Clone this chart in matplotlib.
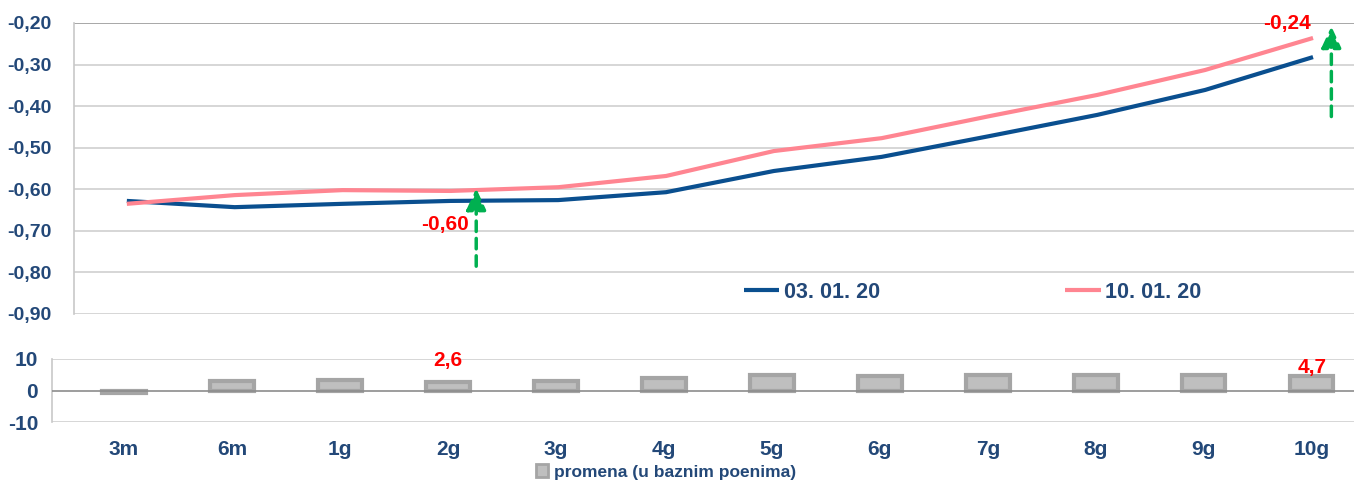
import matplotlib
matplotlib.use("Agg")
import matplotlib.pyplot as plt
from matplotlib.patches import Patch

categories = ["3m", "6m", "1g", "2g", "3g", "4g", "5g", "6g", "7g", "8g", "9g", "10g"]
yield_0301 = [-0.628, -0.643, -0.635, -0.628, -0.626, -0.607, -0.556, -0.522, -0.472, -0.421, -0.361, -0.282]
yield_1001 = [-0.635, -0.614, -0.602, -0.604, -0.595, -0.568, -0.508, -0.477, -0.424, -0.373, -0.313, -0.236]
change_bp = [-0.7, 2.9, 3.3, 2.6, 3.1, 3.9, 4.8, 4.6, 4.8, 4.8, 4.8, 4.7]
top_ticks = [-0.90, -0.80, -0.70, -0.60, -0.50, -0.40, -0.30, -0.20]
bottom_ticks = [-10, 0, 10]
series_names = ["03. 01. 20", "10. 01. 20"]
bar_name = "promena (u baznim poenima)"

FONT = "Liberation Sans"
TXT = "#234878"
PINK = "#ff8591"
RED = "#ff0000"
GREEN = "#00b050"

fig = plt.figure(figsize=(13.54, 4.83), dpi=100)

# ---- top axes
ax = fig.add_axes([74/1354, 1-314/483, 1-74/1354, (314-23)/483])
x = list(range(len(categories)))
ax.plot(x, yield_0301, color="#0a4f8f", lw=3, solid_capstyle="butt", zorder=3, label=series_names[0])
ax.plot(x, yield_1001, color=PINK, lw=3, solid_capstyle="butt", zorder=3, label=series_names[1])
ax.set_xlim(-0.49, 11.38)
ax.set_ylim(-0.90, -0.20)
ax.set_yticks(top_ticks)
ax.set_yticklabels([f"{t:.2f}".replace(".", ",") for t in top_ticks])
for t in top_ticks:
    ax.axhline(t, color="#d0d0d0" if t != -0.20 else "#a0a0a0", lw=1.3 if t == -0.20 else 1.2, zorder=1)
ax.set_xticks([])
for s in ["top", "right", "bottom"]:
    ax.spines[s].set_visible(False)
ax.spines["left"].set_color("#c8c8c8")
ax.spines["left"].set_linewidth(1.2)
ax.tick_params(axis="y", length=0, pad=16)
for lab in ax.get_yticklabels():
    lab.set_fontfamily(FONT)
    lab.set_fontweight("bold")
    lab.set_fontsize(14)
    lab.set_color(TXT)

# arrows
arrow_kw = dict(arrowstyle="-|>,head_width=0.3,head_length=0.65", color=GREEN, lw=2.5,
                linestyle=(0, (3, 2)), mutation_scale=20, shrinkA=0, shrinkB=0)
ax.annotate("", xy=(3.24, -0.598), xytext=(3.24, -0.785), arrowprops=arrow_kw, zorder=4)
ax.annotate("", xy=(11.17, -0.208), xytext=(11.17, -0.425), arrowprops=arrow_kw, zorder=4)
ax.text(2.95, -0.685, "-0,60", color=RED, fontsize=15, fontweight="bold", family=FONT,
        ha="center", va="center")
ax.text(10.76, -0.202, "-0,24", color=RED, fontsize=15, fontweight="bold", family=FONT,
        ha="center", va="center")

leg = ax.legend(ncol=2, loc="center", bbox_to_anchor=(0.702, 0.075), frameon=False,
                handlelength=1.65, handletextpad=0.2, columnspacing=8.6,
                prop=dict(family=FONT, weight="bold", size=15.5))
for t in leg.get_texts():
    t.set_color(TXT)

# ---- bottom axes
bx = fig.add_axes([52/1354, 1-422/483, 1-52/1354, (422-359)/483])
bx.bar(x, change_bp, width=0.40, color="#bfbfbf", edgecolor="#a5a5a5", linewidth=3, zorder=3)
bx.set_xlim(-0.667, 11.39)
bx.set_ylim(-10, 10)
bx.set_yticks(bottom_ticks)
bx.set_yticklabels([str(t) for t in bottom_ticks])
for t in bottom_ticks:
    bx.axhline(t, color="#8c8c8c" if t == 0 else "#d0d0d0", lw=1.2, zorder=1 if t else 4)
bx.set_xticks(x)
bx.set_xticklabels(categories)
for s in ["top", "right", "bottom"]:
    bx.spines[s].set_visible(False)
bx.spines["left"].set_color("#c8c8c8")
bx.spines["left"].set_linewidth(1.2)
bx.tick_params(axis="y", length=0, pad=10)
bx.tick_params(axis="x", length=0, pad=13)
for lab in bx.get_yticklabels() + bx.get_xticklabels():
    lab.set_fontfamily(FONT)
    lab.set_fontweight("bold")
    lab.set_fontsize(15)
    lab.set_color(TXT)

bx.text(3, 9.6, "2,6", color=RED, fontsize=15, fontweight="bold", family=FONT, ha="center", va="center")
bx.text(11, 7.3, "4,7", color=RED, fontsize=15, fontweight="bold", family=FONT, ha="center", va="center",
        zorder=5)

handle = Patch(facecolor="#bfbfbf", edgecolor="#a5a5a5", linewidth=2)
fleg = fig.legend([handle], [bar_name], loc="center", bbox_to_anchor=(666/1354, 1-472/483),
                  frameon=False, handlelength=0.7, handleheight=0.8, handletextpad=0.35,
                  prop=dict(family=FONT, weight="bold", size=12.5))
for t in fleg.get_texts():
    t.set_color(TXT)

fig.savefig("out.png", dpi=100)
